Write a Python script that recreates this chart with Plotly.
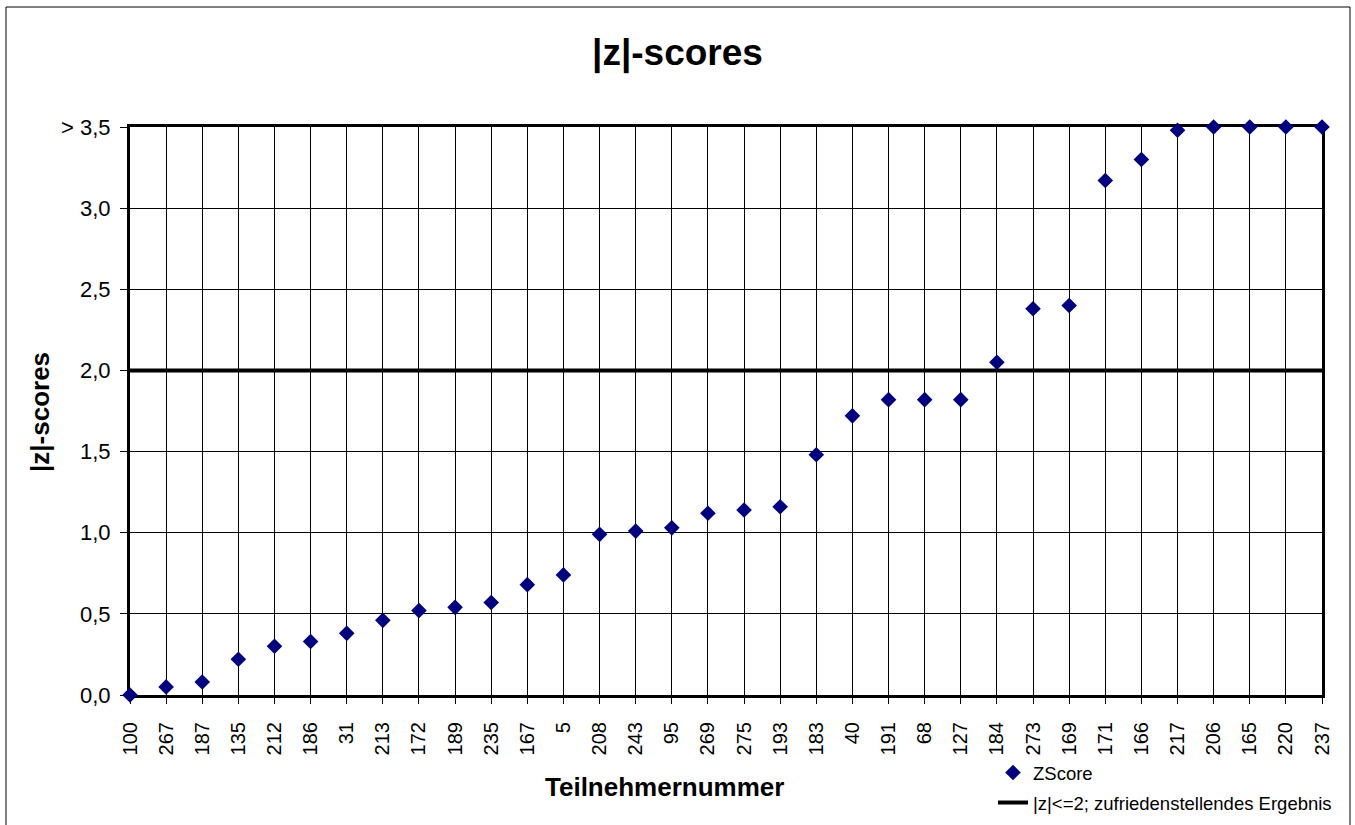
import plotly.graph_objects as go

# Teilnehmer (sorted by |z|) and their |z|-scores, capped at 3.5
teilnehmer = ["100", "267", "187", "135", "212", "186", "31", "213", "172", "189",
              "235", "167", "5", "208", "243", "95", "269", "275", "193", "183",
              "40", "191", "68", "127", "184", "273", "169", "171", "166", "217",
              "206", "165", "220", "237"]
zscore = [0.00, 0.05, 0.08, 0.22, 0.30, 0.33, 0.38, 0.46, 0.52, 0.54,
          0.57, 0.68, 0.74, 0.99, 1.01, 1.03, 1.12, 1.14, 1.16, 1.48,
          1.72, 1.82, 1.82, 1.82, 2.05, 2.38, 2.40, 3.17, 3.30, 3.48,
          3.50, 3.50, 3.50, 3.50]
threshold = 2.0
y_ticks = [0.0, 0.5, 1.0, 1.5, 2.0, 2.5, 3.0, 3.5]
y_ticktext = ["0,0", "0,5", "1,0", "1,5", "2,0", "2,5", "3,0", "> 3,5"]

FONT = "Liberation Sans, Arial, sans-serif"

fig = go.Figure()

# threshold line first so the markers are drawn on top of it
fig.add_trace(go.Scatter(
    x=[teilnehmer[0], teilnehmer[-1]], y=[threshold, threshold],
    mode="lines", line=dict(color="black", width=4),
    name="|z|<=2; zufriedenstellendes Ergebnis", legend="legend2",
    showlegend=True))

fig.add_trace(go.Scatter(
    x=teilnehmer, y=zscore, mode="markers",
    marker=dict(symbol="diamond", size=12, color="#000080"),
    name="ZScore", cliponaxis=False, legend="legend", showlegend=True))

fig.update_layout(
    width=1355, height=825,
    margin=dict(l=130, r=33, t=127, b=130, autoexpand=False),
    paper_bgcolor="white", plot_bgcolor="white",
    font=dict(family=FONT, color="black"),
    showlegend=True,
    title=dict(text="<b>|z|-scores</b>", x=0.5, xanchor="center",
               y=1 - 52 / 825, yanchor="middle", yref="container",
               font=dict(size=37, family=FONT)),
    legend=dict(x=(993 - 130) / 1192, y=(695 - 773) / 568,
                xanchor="left", yanchor="middle",
                font=dict(size=18.5), bgcolor="rgba(0,0,0,0)"),
    legend2=dict(x=(993 - 130) / 1192, y=(695 - 803) / 568,
                 xanchor="left", yanchor="middle",
                 font=dict(size=18.5), bgcolor="rgba(0,0,0,0)"),
    xaxis=dict(type="category", categoryorder="array", categoryarray=teilnehmer,
               range=[0, len(teilnehmer) - 1],
               tickangle=-90, tickfont=dict(size=20),
               showgrid=True, gridcolor="black", gridwidth=1,
               showline=True, linecolor="black", linewidth=3, mirror=True,
               ticks="outside", ticklen=6, tickcolor="black",
               ticklabelstandoff=10, layer="below traces", zeroline=False,
               automargin=False),
    yaxis=dict(range=[0, 3.5], tickvals=y_ticks, ticktext=y_ticktext,
               tickfont=dict(size=22),
               showgrid=True, gridcolor="black", gridwidth=1,
               showline=True, linecolor="black", linewidth=3, mirror=True,
               ticks="outside", ticklen=7, tickcolor="black",
               ticklabelstandoff=5, layer="below traces", zeroline=False,
               automargin=False),
    shapes=[dict(type="rect", xref="paper", yref="paper",
                 x0=(6 - 130) / 1192, x1=(1350 - 130) / 1192,
                 y0=(695 - 840) / 568, y1=(695 - 7) / 568,
                 line=dict(color="black", width=1), layer="below")],
    annotations=[
        dict(text="<b>Teilnehmernummer</b>", xref="paper", yref="paper",
             x=(664 - 130) / 1192, y=(695 - 787) / 568, showarrow=False,
             xanchor="center", yanchor="middle", font=dict(size=26)),
        dict(text="<b>|z|-scores</b>", xref="paper", yref="paper",
             x=(40 - 130) / 1192, y=(695 - 412) / 568, showarrow=False,
             textangle=-90, xanchor="center", yanchor="middle",
             font=dict(size=26)),
    ],
)

# drop the default body margin so the figure sits at the page corner
fig.write_html("out.html", config={"displayModeBar": False},
               post_script="document.body.style.margin='0';")
